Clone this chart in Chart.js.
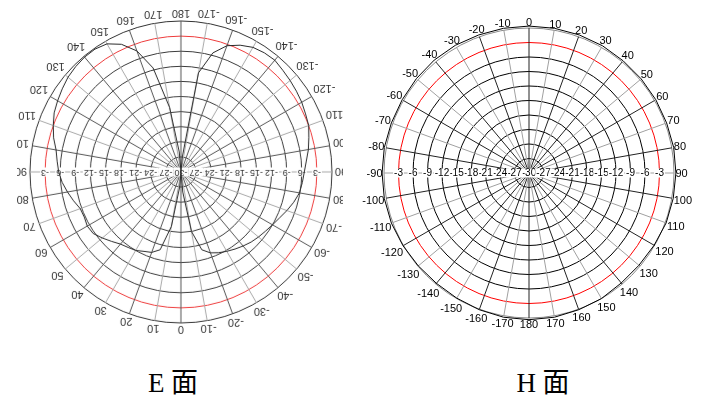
<!DOCTYPE html>
<html>
<head>
<meta charset="utf-8">
<script src="https://cdn.jsdelivr.net/npm/chart.js@4.4.1/dist/chart.umd.min.js"></script>
<style>
    html, body { margin: 0; padding: 0; background: #fff; }
    body { width: 705px; height: 397px; position: relative; overflow: hidden; }
    #eClip { position: absolute; left: 17px; top: 0; width: 326px; height: 346px; overflow: hidden; }
    #eWrap { position: absolute; left: -16px; top: 0; width: 360px; height: 344px; transform: rotate(180deg); }
    #hWrap { position: absolute; left: 359px; top: 3px; width: 340px; height: 340px; }
    .caption {
        position: absolute; top: 369px; width: 120px; text-align: center;
        font-family: "Liberation Serif", "Noto Sans CJK SC", serif;
        font-size: 27px; line-height: 28px; white-space: nowrap; color: #000;
    }
</style>
</head>
<body>
<div id="eClip"><div id="eWrap"><canvas id="eChart" width="360" height="344"></canvas></div></div>
<div id="hWrap"><canvas id="hChart" width="340" height="340"></canvas></div>
<div class="caption" style="left: 113px;">E 面</div>
<div class="caption" style="left: 483px;">H 面</div>

<script>
// dB rings (the scale runs from -30 in the centre to 0 on the rim)
const DB_TICKS = [-30, -27, -24, -21, -18, -15, -12, -9, -6, -3, 0];
const DB_LABELS = ['-30', '-27', '-24', '-21', '-18', '-15', '-12', '-9', '-6', '-3'];

// E plane, sampled every 5 degrees
const E_ANGLES = [
    0, 5, 10, 15, 20, 25, 30, 35, 40, 45, 50, 55, 60, 65, 70, 75, 80, 85,
    90, 95, 100, 105, 110, 115, 120, 125, 130, 135, 140, 145, 150, 155, 160, 165, 170, 175,
    180, -175, -170, -165, -160, -155, -150, -145, -140, -135, -130, -125, -120, -115, -110, -105, -100, -95,
    -90, -85, -80, -75, -70, -65, -60, -55, -50, -45, -40, -35, -30, -25, -20, -15, -10, -5
];
const E_GAIN = [
    -30, -27, -19, -14, -13, -12.6, -12, -11.7, -11.3, -10.5, -9.6, -8.7, -8.5, -8.8, -8.7, -7.9, -7.1, -6.3,
    -5.7, -5.3, -4.8, -3.8, -3.0, -2.2, -1.7, -1.2, -0.7, -0.4, -0.2, -0.2, -0.6, -2.0, -4.4, -8.6, -17, -26,
    -30, -27, -10, -5.5, -3.3, -2.2, -1.4, -1.1, -1.0, -1.4, -1.7, -2.0, -2.3, -2.7, -3.0, -3.7, -4.3, -5.0,
    -5.5, -5.8, -6.1, -6.8, -7.6, -8.4, -9.0, -9.5, -9.9, -10.3, -10.8, -11.3, -11.8, -12.3, -12.9, -14, -18, -26
];

// H plane, sampled every 10 degrees
const H_ANGLES = [
    0, 10, 20, 30, 40, 50, 60, 70, 80, 90, 100, 110, 120, 130, 140, 150, 160, 170,
    180, -170, -160, -150, -140, -130, -120, -110, -100, -90, -80, -70, -60, -50, -40, -30, -20, -10
];
const H_GAIN = [
    0.4, 0.4, 0.4, 0.4, 0.3, 0.3, 0.3, 0.3, 0.4, 0.4, 0.3, 0.2, -0.1, -0.3, -0.3, 0, 0.1, 0.3,
    0.35, 0.3, 0.1, -0.1, -0.2, -0.1, 0.1, 0.3, 0.4, 0.4, 0.4, 0.3, 0.3, 0.4, 0.5, 0.5, 0.4, 0.4
];

// draws the dB values along the +-90 spokes and the angle values round the rim
const polarText = {
    id: 'polarText',
    beforeDatasetsDraw(chart, args, opts) {
        const scale = chart.scales.r;
        const labels = chart.data.labels;
        const ctx = chart.ctx;
        ctx.save();
        ctx.textAlign = 'center';
        ctx.textBaseline = 'middle';

        ctx.font = opts.tickFont;
        const sides = [labels.indexOf(90), labels.indexOf(-90)];
        DB_LABELS.forEach((text, k) => {
            const value = DB_TICKS[k];
            const list = value === DB_TICKS[0] ? [sides[0]] : sides;
            list.forEach(idx => {
                const p = scale.getPointPositionForValue(idx, value);
                const w = ctx.measureText(text).width;
                ctx.fillStyle = '#fff';
                ctx.fillRect(p.x - w / 2 - 1, p.y - opts.tickSize / 2, w + 2, opts.tickSize);
                ctx.fillStyle = opts.textColor;
                ctx.fillText(text, p.x, p.y);
            });
        });

        ctx.font = opts.angleFont;
        ctx.fillStyle = opts.textColor;
        labels.forEach((lab, i) => {
            if (lab % 10 !== 0) return;
            const text = String(lab);
            const a = scale.getIndexAngle(i);
            const w = ctx.measureText(text).width;
            const h = opts.angleSize * 0.75;
            const d = scale.drawingArea + opts.gap + w / 2 * Math.abs(Math.sin(a)) + h / 2 * Math.abs(Math.cos(a));
            const p = scale.getPointPosition(i, d);
            ctx.fillText(text, p.x, p.y + 1);
        });
        ctx.restore();
    }
};

function makePolar(canvasId, angles, gain, pad, look) {
    const ctx = document.getElementById(canvasId).getContext('2d');
    return new Chart(ctx, {
        type: 'radar',
        data: {
            labels: angles,
            datasets: [{
                data: gain,
                borderColor: look.line,
                borderWidth: 1,
                pointRadius: 0,
                fill: false,
                tension: 0,
                clip: false
            }]
        },
        options: {
            responsive: false,
            animation: false,
            events: [],
            layout: { padding: pad },
            plugins: {
                legend: { display: false },
                tooltip: { enabled: false },
                polarText: look.text
            },
            scales: {
                r: {
                    min: -30,
                    max: 0,
                    ticks: { display: false, stepSize: 3 },
                    pointLabels: { display: false },
                    grid: {
                        circular: true,
                        lineWidth: 1,
                        color: c => c.tick.value === -3 ? look.red : (c.tick.value === 0 ? look.rim : look.ring)
                    },
                    angleLines: {
                        lineWidth: c => angles[c.index] % 10 === 0 ? 1 : 0,
                        color: c => angles[c.index] % 20 === 0 ? look.spokeDark : look.spokeLight
                    }
                }
            }
        },
        plugins: [polarText]
    });
}

makePolar('eChart', E_ANGLES, E_GAIN, { left: 29, right: 29, top: 21, bottom: 21 }, {
    line: '#2a2a2a', red: '#ee3b3b', ring: '#3c3c3c', rim: '#333',
    spokeDark: '#555', spokeLight: '#a8a8a8',
    text: {
        tickFont: '9px "Liberation Sans", Arial, sans-serif', tickSize: 9,
        angleFont: '11px "Liberation Sans", Arial, sans-serif', angleSize: 11,
        gap: 3, textColor: '#333'
    }
});

makePolar('hChart', H_ANGLES, H_GAIN, { left: 25, right: 25, top: 25, bottom: 25 }, {
    line: '#000', red: '#ff0000', ring: '#000', rim: '#8a8a8a',
    spokeDark: '#222', spokeLight: '#a0a0a0',
    text: {
        tickFont: '10px "Liberation Sans", Arial, sans-serif', tickSize: 9,
        angleFont: '11px "Liberation Sans", Arial, sans-serif', angleSize: 11,
        gap: 1.5, textColor: '#000'
    }
});
</script>
</body>
</html>
